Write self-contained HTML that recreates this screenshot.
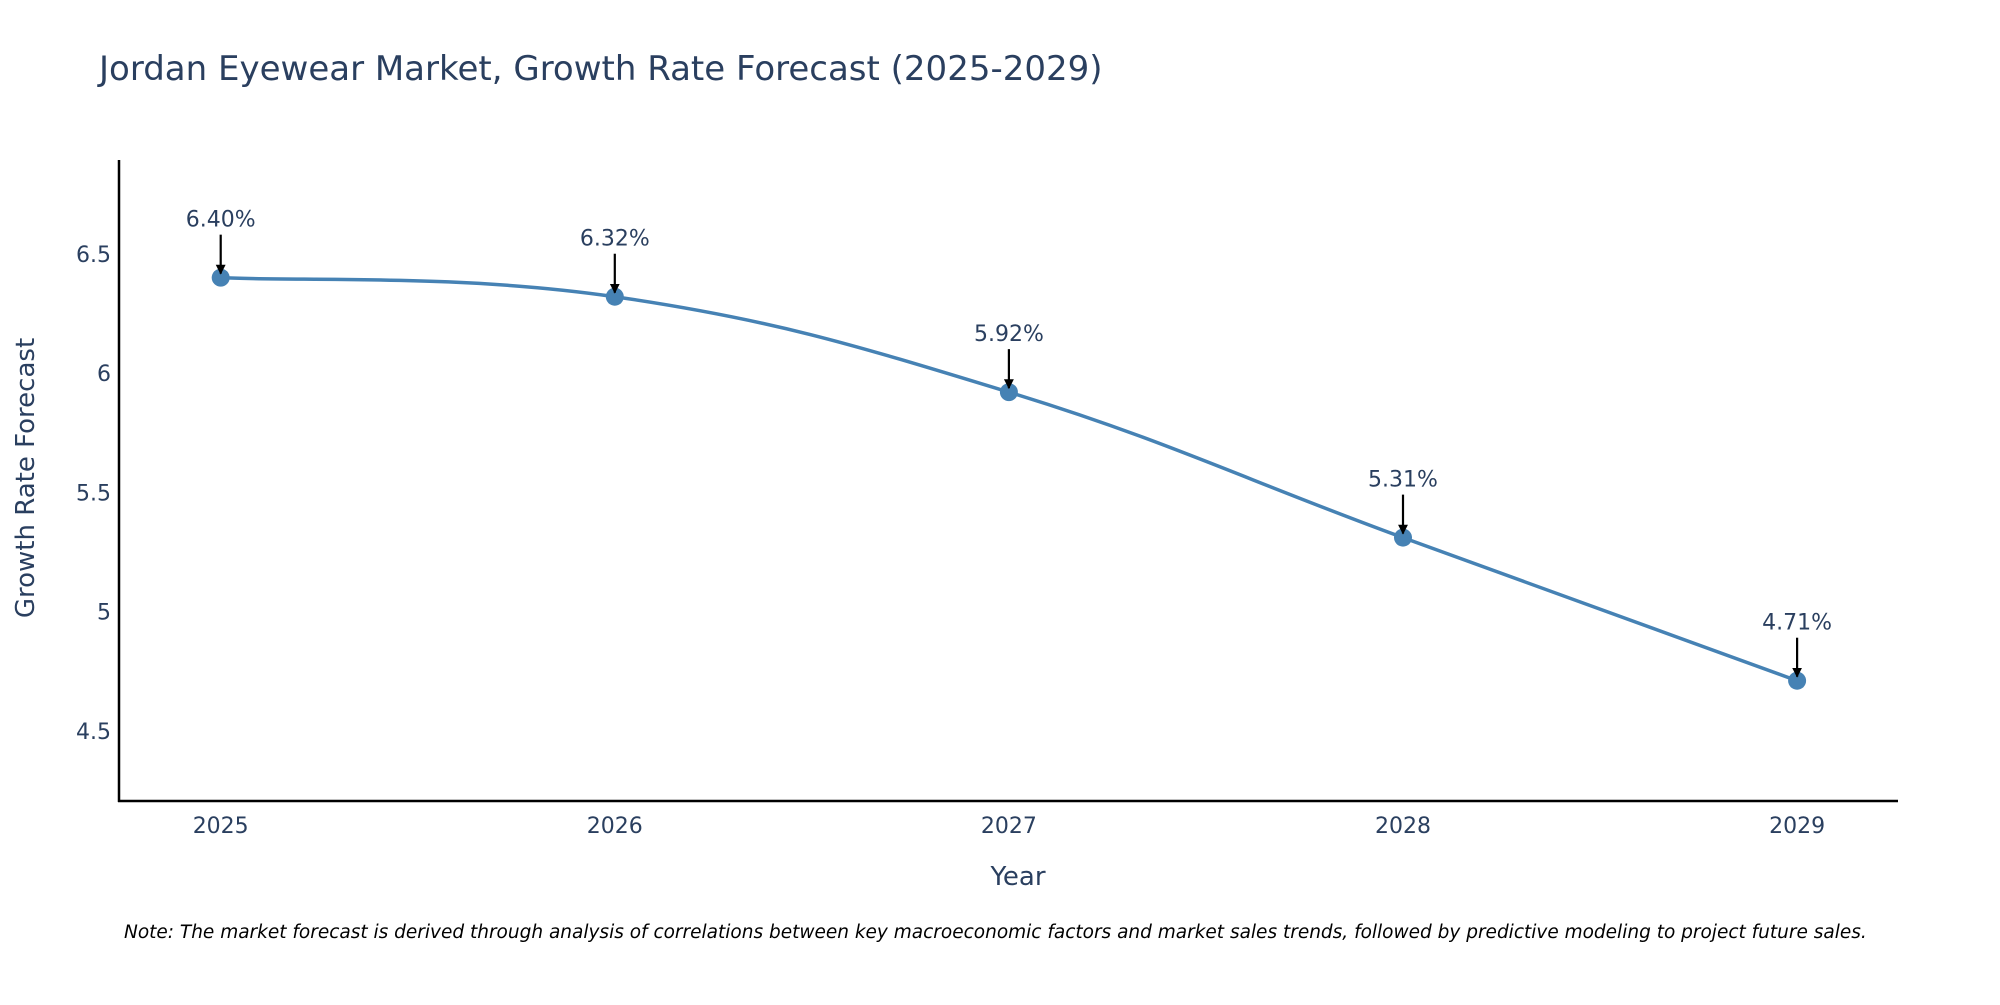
<!DOCTYPE html>
<html><head><meta charset="utf-8"><style>
body{margin:0;background:#fff;}
svg text{font-family:"DejaVu Sans","Liberation Sans",sans-serif;fill:#2a3f5f;}
</style></head><body>
<svg id="chart" width="2000" height="1000" xmlns="http://www.w3.org/2000/svg">
<defs><marker id="ah" viewBox="0 0 10 10" refX="9" refY="5" markerWidth="4.5" markerHeight="4.5" markerUnits="strokeWidth" orient="auto"><path d="M0,0L10,5L0,10z" fill="#000"/></marker></defs>
<text x="99" y="80" font-size="34">Jordan Eyewear Market, Growth Rate Forecast (2025-2029)</text>
<g id="yticks"></g><g id="xticks"></g>
<line x1="119" y1="160" x2="119" y2="802" stroke="#000" stroke-width="2.5"/>
<line x1="118" y1="801" x2="1898" y2="801" stroke="#000" stroke-width="2.5"/>
<text transform="translate(34,478) rotate(-90)" text-anchor="middle" font-size="26">Growth Rate Forecast</text>
<text x="1018" y="885" text-anchor="middle" font-size="26">Year</text>
<path id="line" fill="none" stroke="#4682B4" stroke-width="3.5"/>
<g id="pts"></g>
<text x="124" y="938" font-size="18.5" font-style="italic" style="fill:#000">Note: The market forecast is derived through analysis of correlations between key macroeconomic factors and market sales trends, followed by predictive modeling to project future sales.</text>
</svg>
<script>
const years=[2025,2026,2027,2028,2029];
const values=[6.40,6.32,5.92,5.31,4.71];
const labels=["6.40%","6.32%","5.92%","5.31%","4.71%"];
const yTicks=[4.5,5,5.5,6,6.5];
const ns="http://www.w3.org/2000/svg";
const xs=y=>220.7+(y-2025)*394.1;
const ys=v=>253.8-(v-6.5)*238.5;
function mk(t,a,p){const e=document.createElementNS(ns,t);for(const k in a)e.setAttribute(k,a[k]);p.appendChild(e);return e;}
const yt=document.getElementById('yticks');
yTicks.forEach(v=>{const t=mk('text',{x:111,y:ys(v)+8,'text-anchor':'end','font-size':22},yt);t.textContent=v;

});
const xt=document.getElementById('xticks');
years.forEach(y=>{const t=mk('text',{x:xs(y),y:833,'text-anchor':'middle','font-size':22},xt);t.textContent=y;

});
const P=years.map((y,i)=>[xs(y),ys(values[i])]);
let d=`M${P[0][0]},${P[0][1]}`;const k=0.2;
for(let i=0;i<P.length-1;i++){const p0=P[Math.max(i-1,0)],p1=P[i],p2=P[i+1],p3=P[Math.min(i+2,P.length-1)];
const c1=[p1[0]+(p2[0]-p0[0])*k,p1[1]+(p2[1]-p0[1])*k],c2=[p2[0]-(p3[0]-p1[0])*k,p2[1]-(p3[1]-p1[1])*k];
d+=` C${c1[0]},${c1[1]} ${c2[0]},${c2[1]} ${p2[0]},${p2[1]}`;}
document.getElementById('line').setAttribute('d',d);
const g=document.getElementById('pts');
P.forEach((p,i)=>{const c=mk('circle',{cx:p[0],cy:p[1],r:9,fill:'#4682B4'},g);


const l=mk('line',{x1:p[0],y1:p[1]-43,x2:p[0],y2:p[1]-4,stroke:'#000','stroke-width':2.2,'marker-end':'url(#ah)'},g);


const t=mk('text',{x:p[0],y:p[1]-51,'text-anchor':'middle','font-size':22},g);t.textContent=labels[i];

});
</script>
</body></html>
